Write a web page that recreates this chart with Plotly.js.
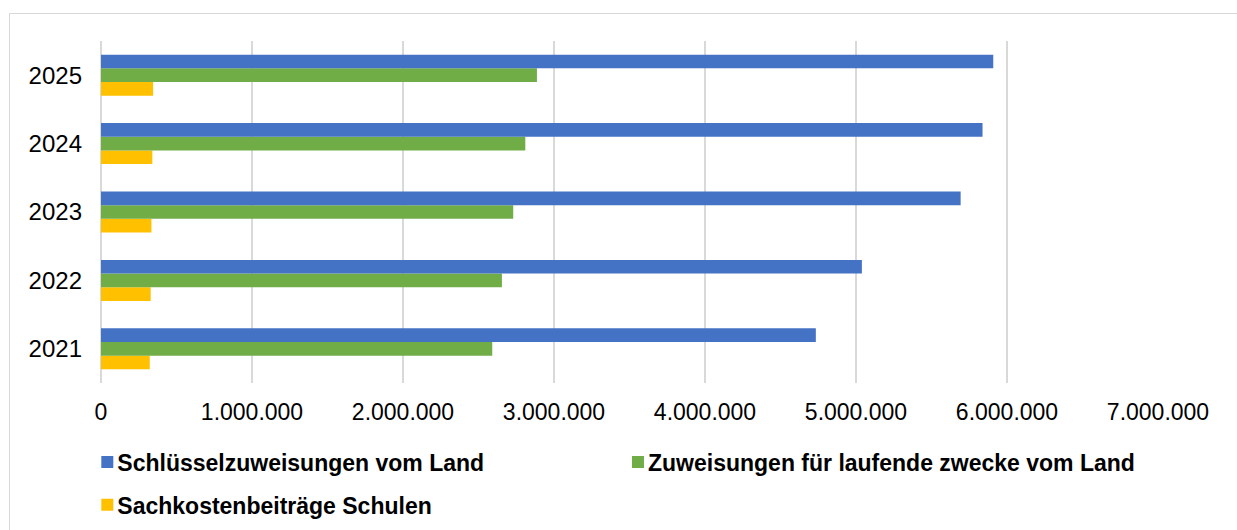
<!DOCTYPE html>
<html>
<head>
<meta charset="utf-8">
<script src="https://cdn.plot.ly/plotly-3.0.1.min.js"></script>
<style>
  html, body { margin: 0; padding: 0; background: #fff; }
  #wrap { position: relative; width: 1237px; height: 530px; overflow: hidden; }
  #frame { position: absolute; left: 9px; top: 13px; width: 1300px; height: 600px; border-left: 1px solid #d9d9d9; border-top: 1px solid #d9d9d9; box-sizing: border-box; pointer-events: none; }
  #chart { position: absolute; left: 0; top: 0; width: 1237px; height: 530px; }
</style>
</head>
<body>
<div id="wrap">
  <div id="chart"></div>
  <div id="frame"></div>
</div>
<script>
const years = ['2021', '2022', '2023', '2024', '2025'];
const seriesNames = ['Schlüsselzuweisungen vom Land', 'Zuweisungen für laufende zwecke vom Land', 'Sachkostenbeiträge Schulen'];
const schluessel = [4734000, 5039000, 5693000, 5838000, 5909000];
const zuweisungen = [2591000, 2655000, 2730000, 2810000, 2887000];
const sachkosten = [323000, 329000, 334000, 340000, 345000];
const xTickVals = [0, 1000000, 2000000, 3000000, 4000000, 5000000, 6000000, 7000000];
const xTickText = ['0', '1.000.000', '2.000.000', '3.000.000', '4.000.000', '5.000.000', '6.000.000', '7.000.000'];
const colors = ['#4472C4', '#70AD47', '#FFC000'];

const FONT = 'Liberation Sans, Arial, sans-serif';

const traces = [
  { type: 'bar', orientation: 'h', name: seriesNames[2], y: years, x: sachkosten,
    marker: { color: colors[2] }, legend: 'legend3', hoverinfo: 'x+name' },
  { type: 'bar', orientation: 'h', name: seriesNames[1], y: years, x: zuweisungen,
    marker: { color: colors[1] }, legend: 'legend2', hoverinfo: 'x+name' },
  { type: 'bar', orientation: 'h', name: seriesNames[0], y: years, x: schluessel,
    marker: { color: colors[0] }, legend: 'legend', hoverinfo: 'x+name' }
];

const legendBase = {
  orientation: 'h', xanchor: 'left', yanchor: 'top', xref: 'container', yref: 'container',
  font: { family: FONT, size: 23, color: '#000', weight: 'bold' },
  bgcolor: 'rgba(0,0,0,0)', borderwidth: 0
};

const layout = {
  width: 1237, height: 530,
  margin: { l: 101, r: 79, t: 41, b: 147, pad: 0, autoexpand: false },
  paper_bgcolor: '#fff', plot_bgcolor: '#fff',
  barmode: 'group', bargap: 0.4, bargroupgap: 0,
  separators: ',.',
  showlegend: true,
  font: { family: FONT, size: 23, color: '#000' },
  xaxis: {
    range: [0, 7000000], tickmode: 'array', tickvals: xTickVals, ticktext: xTickText,
    showgrid: true, gridcolor: '#d9d9d9', gridwidth: 1.5,
    zeroline: true, zerolinecolor: '#d9d9d9', zerolinewidth: 1.5,
    showline: false, ticks: '',
    ticklabelstandoff: 13, automargin: false,
    tickfont: { family: FONT, size: 23, color: '#000' }, fixedrange: true
  },
  yaxis: {
    type: 'category', categoryorder: 'array', categoryarray: years,
    showgrid: false, zeroline: false, showline: false, ticks: '',
    ticklabelstandoff: 18, automargin: false,
    tickfont: { family: FONT, size: 24, color: '#000' }, fixedrange: true
  },
  legend: Object.assign({}, legendBase, { x: 0.0625, y: 0.169 }),
  legend2: Object.assign({}, legendBase, { x: 0.4915, y: 0.169 }),
  legend3: Object.assign({}, legendBase, { x: 0.0625, y: 0.088 })
};

Plotly.newPlot('chart', traces, layout, { displayModeBar: false, staticPlot: true }).then(function (gd) {
  // move legend swatches closer to their labels, as in the reference
  gd.querySelectorAll('g.legendpoints').forEach(function (g) {
    const t = g.getAttribute('transform') || '';
    g.setAttribute('transform', 'translate(10,0) ' + t);
  });
});
</script>
</body>
</html>
